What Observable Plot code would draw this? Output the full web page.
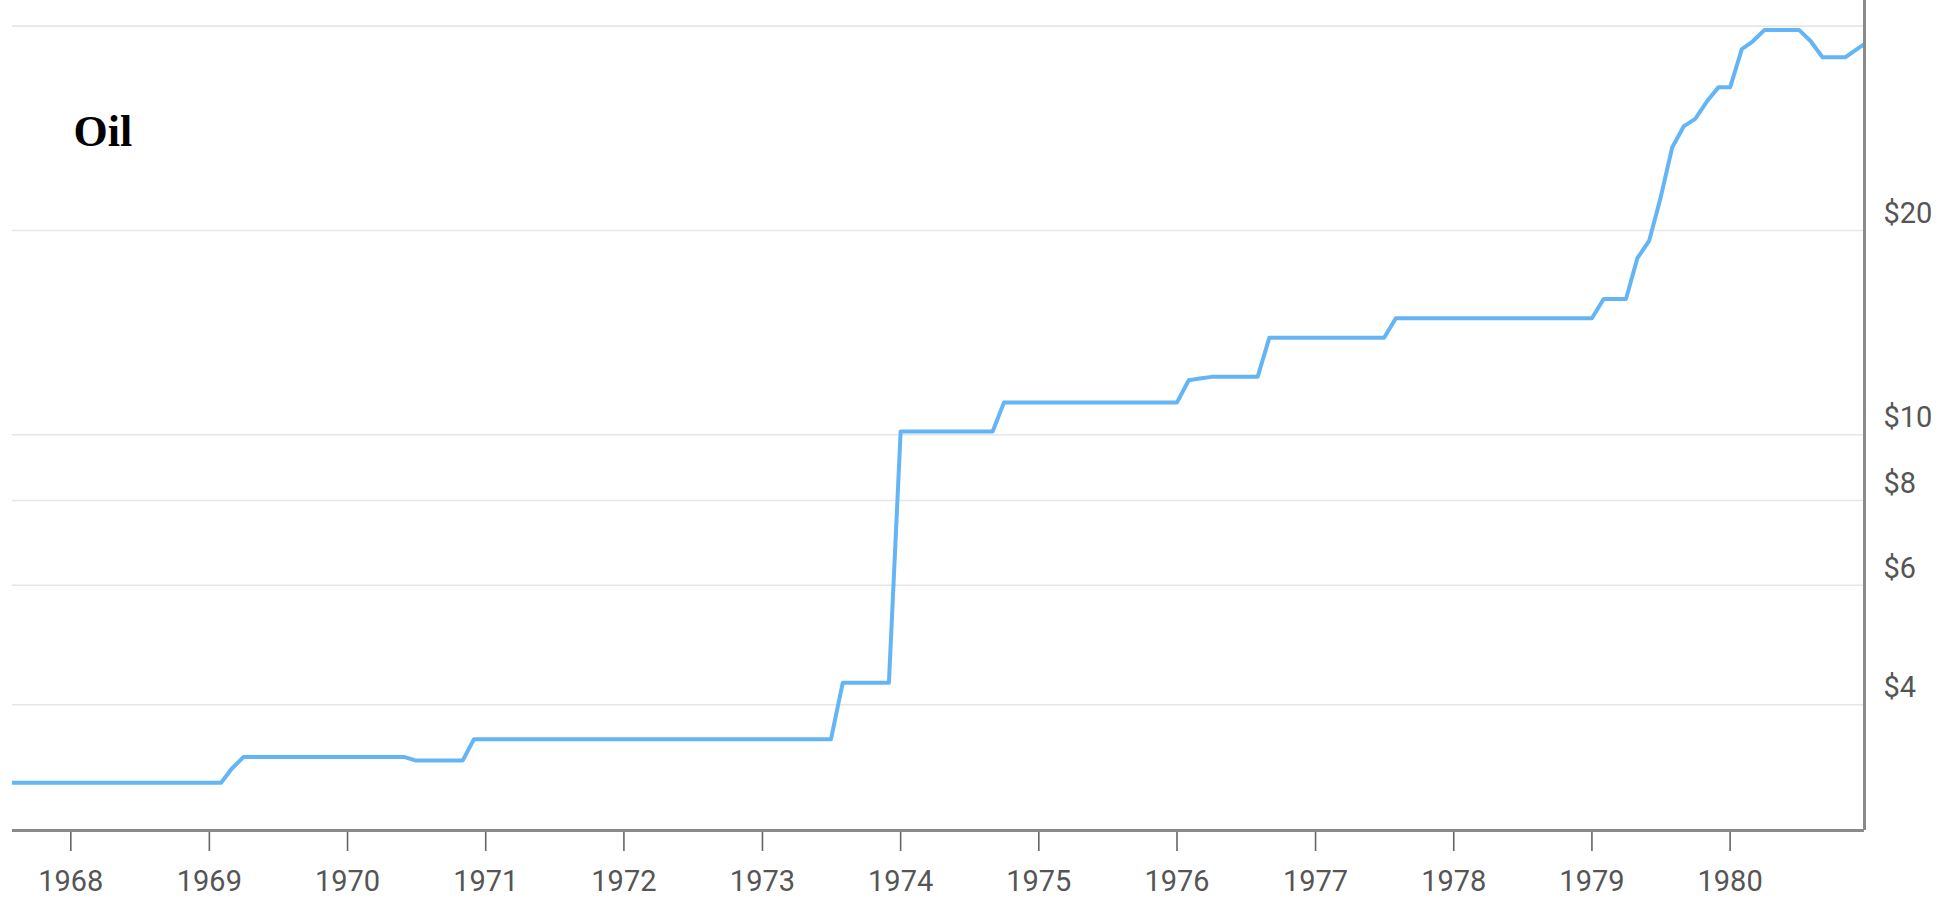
<!DOCTYPE html>
<html>
<head>
<meta charset="utf-8">
<script src="https://cdn.jsdelivr.net/npm/d3@7"></script>
<script src="https://cdn.jsdelivr.net/npm/@observablehq/plot@0.6"></script>
<style>
  html, body { margin: 0; padding: 0; background: #fff; }
  #chart svg { display: block; }
</style>
</head>
<body>
<div id="chart"></div>
<script>
// ---- data ----
const title = "Oil";
const firstMonth = "1967-07-01";           // first monthly observation
// monthly oil price (USD / barrel), one row per year
const prices = [
  /*1967 Jul-Dec*/ 3.07, 3.07, 3.07, 3.07, 3.07, 3.07,
  /*1968*/ 3.07, 3.07, 3.07, 3.07, 3.07, 3.07, 3.07, 3.07, 3.07, 3.07, 3.07, 3.07,
  /*1969*/ 3.07, 3.07, 3.22, 3.35, 3.35, 3.35, 3.35, 3.35, 3.35, 3.35, 3.35, 3.35,
  /*1970*/ 3.35, 3.35, 3.35, 3.35, 3.35, 3.35, 3.31, 3.31, 3.31, 3.31, 3.31, 3.56,
  /*1971*/ 3.56, 3.56, 3.56, 3.56, 3.56, 3.56, 3.56, 3.56, 3.56, 3.56, 3.56, 3.56,
  /*1972*/ 3.56, 3.56, 3.56, 3.56, 3.56, 3.56, 3.56, 3.56, 3.56, 3.56, 3.56, 3.56,
  /*1973*/ 3.56, 3.56, 3.56, 3.56, 3.56, 3.56, 3.56, 4.31, 4.31, 4.31, 4.31, 4.31,
  /*1974*/ 10.11, 10.11, 10.11, 10.11, 10.11, 10.11, 10.11, 10.11, 10.11, 11.16, 11.16, 11.16,
  /*1975*/ 11.16, 11.16, 11.16, 11.16, 11.16, 11.16, 11.16, 11.16, 11.16, 11.16, 11.16, 11.16,
  /*1976*/ 11.16, 12.03, 12.10, 12.17, 12.17, 12.17, 12.17, 12.17, 13.90, 13.90, 13.90, 13.90,
  /*1977*/ 13.90, 13.90, 13.90, 13.90, 13.90, 13.90, 13.90, 14.85, 14.85, 14.85, 14.85, 14.85,
  /*1978*/ 14.85, 14.85, 14.85, 14.85, 14.85, 14.85, 14.85, 14.85, 14.85, 14.85, 14.85, 14.85,
  /*1979*/ 14.85, 15.85, 15.85, 15.85, 18.20, 19.30, 22.30, 26.50, 28.50, 29.20, 31.00, 32.50,
  /*1980*/ 32.50, 37.00, 38.00, 39.50, 39.50, 39.50, 39.50, 38.00, 36.00, 36.00, 36.00, 37.00,
  /*1981 Jan*/ 38.00
];
const yearTicks = [1968, 1969, 1970, 1971, 1972, 1973, 1974, 1975, 1976, 1977, 1978, 1979, 1980];
const priceTicks = [4, 6, 8, 10, 20];
const gridValues = [4, 6, 8, 10, 20, 40];
const xDomain = ["1967-07-31", "1980-12-21"];
const yDomain = [2.611, 43.64];

// ---- build table ----
const start = new Date(firstMonth + "T00:00:00Z");
const series = prices.map((p, i) => ({ date: d3.utcMonth.offset(start, i), price: p }));
const xTickDates = yearTicks.map(y => new Date(Date.UTC(y, 0, 1)));
const xd = xDomain.map(s => new Date(s + "T00:00:00Z"));

const chart = Plot.plot({
  width: 1957,
  height: 912,
  marginTop: 0,
  marginBottom: 82,
  marginLeft: 12,
  marginRight: 93,
  style: { fontFamily: "Roboto, sans-serif", background: "#fff", overflow: "visible" },
  x: { type: "utc", domain: xd, label: null },
  y: { type: "log", domain: yDomain, label: null },
  marks: [
    Plot.ruleY(gridValues, { stroke: "#e6e6e6", strokeWidth: 1.6 }),
    Plot.axisX(xTickDates, {
      tickFormat: d3.utcFormat("%Y"),
      tickSize: 21,
      tickPadding: 19,
      fontSize: 29,
      color: "#555",
      stroke: "#666",
      strokeWidth: 1.6,
      label: null
    }),
    Plot.axisY(priceTicks, {
      anchor: "right",
      tickSize: 0,
      tickPadding: 19,
      dy: -17,
      fontSize: 29,
      color: "#555",
      tickFormat: d => "$" + d,
      label: null
    }),
    Plot.line(series, {
      x: "date", y: "price",
      stroke: "#64b5f6", strokeWidth: 4,
      strokeLinejoin: "round", clip: true
    }),
    Plot.ruleY([yDomain[0]], { stroke: "#8a8a8a", strokeWidth: 3 }),
    Plot.ruleX([xd[1]], { stroke: "#8a8a8a", strokeWidth: 3 }),
    Plot.text([title], {
      frameAnchor: "top-left",
      dx: 61, dy: 131,
      textAnchor: "start",
      lineAnchor: "middle",
      fontFamily: "'Liberation Serif', 'Times New Roman', serif",
      fontWeight: "bold",
      fontSize: 44,
      fill: "#000"
    })
  ]
});
document.getElementById("chart").appendChild(chart);
</script>
</body>
</html>
